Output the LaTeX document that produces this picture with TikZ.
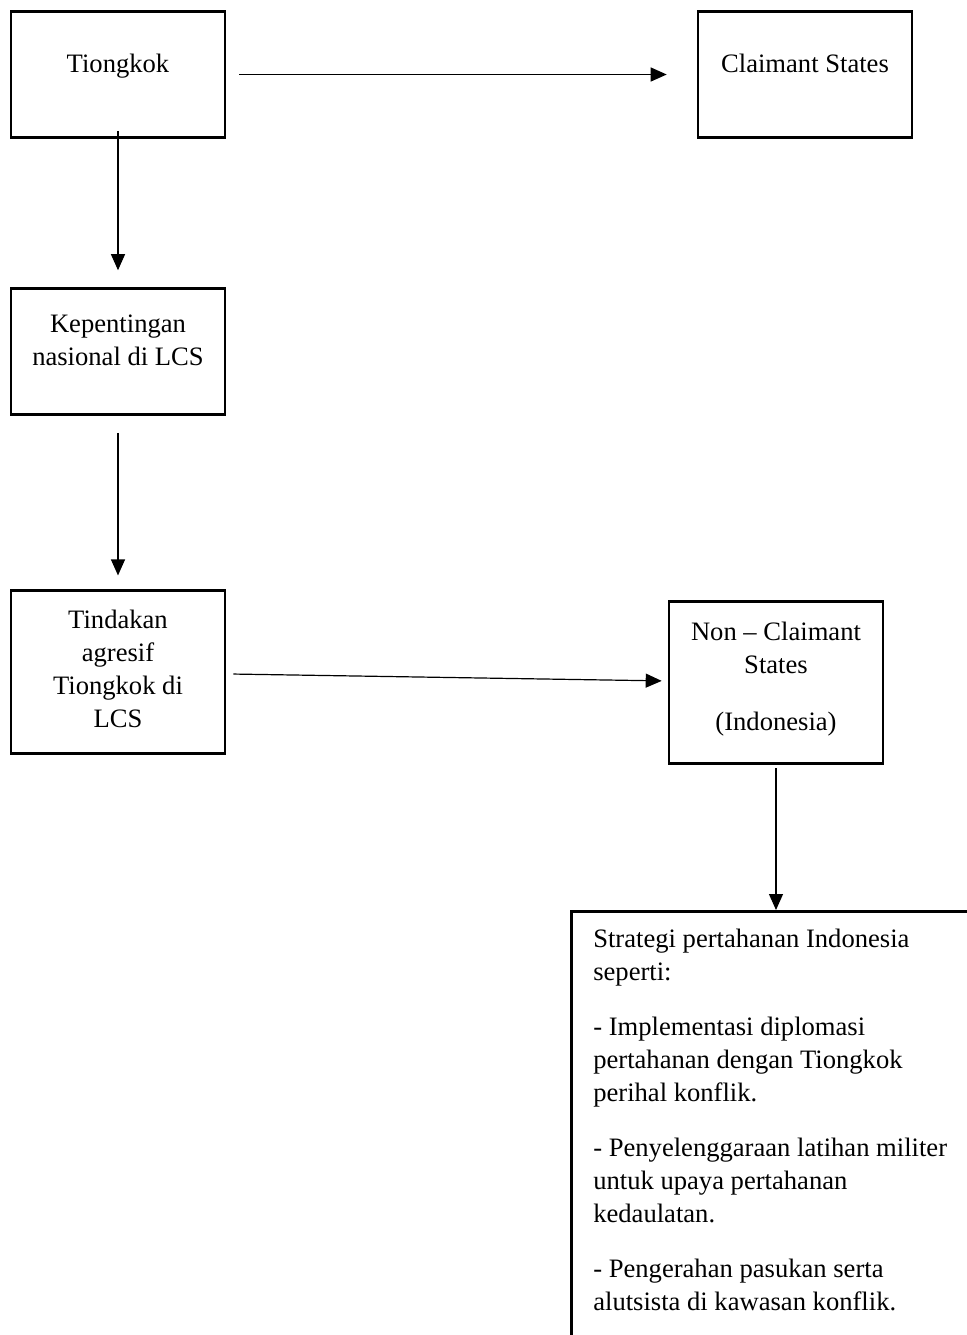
\documentclass[tikz,border=0pt]{standalone}
\usepackage{fontspec}
\setmainfont{Liberation Serif}
\usetikzlibrary{arrows.meta, positioning}
\tikzset{
  bx/.style={rectangle, draw=black, line width=1.3pt, minimum width=107pt,
             minimum height=63pt, align=center, inner sep=3pt,
             font=\fontsize{13.3pt}{16.5pt}\selectfont,
             execute at end node={\rule[-#1]{0pt}{#1}}},
  bx/.default=11pt,
  % kotak strategi (terpotong di kanan dan bawah)
  stbox/.style={rectangle, draw=black, line width=1.3pt, anchor=north west,
                inner xsep=11pt, inner ysep=9pt,
                font=\fontsize{13.3pt}{16.5pt}\selectfont},
  ar/.style={-{Triangle[length=8pt, width=7pt]}, line width=0.6pt, draw=black}
}

\begin{document}
\begin{tikzpicture}[x=0.5pt, y=-0.5pt]
    \useasboundingbox (0,0) rectangle (967,1335);

    % --- baris atas ---
    \node[bx] (tk) at (118,74.5) {Tiongkok};
    \node[bx, right=235.2pt of tk] (cs) {Claimant States};

    % --- kolom kiri ---
    \node[bx, below=74.2pt of tk] (kp) {Kepentingan\\nasional di LCS};
    \node[bx=3pt, below=86.8pt of kp, minimum height=81.5pt] (td)
      {Tindakan\\agresif\\Tiongkok di\\LCS};

    % --- kolom kanan ---
    \node[bx=6pt, right=220.7pt of td, yshift=-5.25pt, minimum height=81pt] (nc)
      {Non -- Claimant\\States\\[12pt](Indonesia)};
    \node[stbox] (st) at (570,910)
      {\parbox[t][215pt][t]{200pt}{%
        Strategi pertahanan Indonesia\\
        seperti:\\[11pt]
        - Implementasi diplomasi\\
        pertahanan dengan Tiongkok\\
        perihal konflik.\\[11pt]
        - Penyelenggaraan latihan militer\\
        untuk upaya pertahanan\\
        kedaulatan.\\[11pt]
        - Pengerahan pasukan serta\\
        alutsista di kawasan konflik.}};

    % --- panah ---
    \draw[ar, shorten <=6.5pt, shorten >=15pt] (tk) -- (cs);
    \draw[ar, shorten <=-4pt, shorten >=8.5pt] (tk) -- (kp);
    \draw[ar, shorten <=8.5pt, shorten >=7pt] (kp) -- (td);
    \draw[ar, shorten <=3.5pt, shorten >=3pt] (td) -- (nc);
    \draw[ar, shorten <=1.5pt] (nc) -- (nc |- st.north);
\end{tikzpicture}
\end{document}
